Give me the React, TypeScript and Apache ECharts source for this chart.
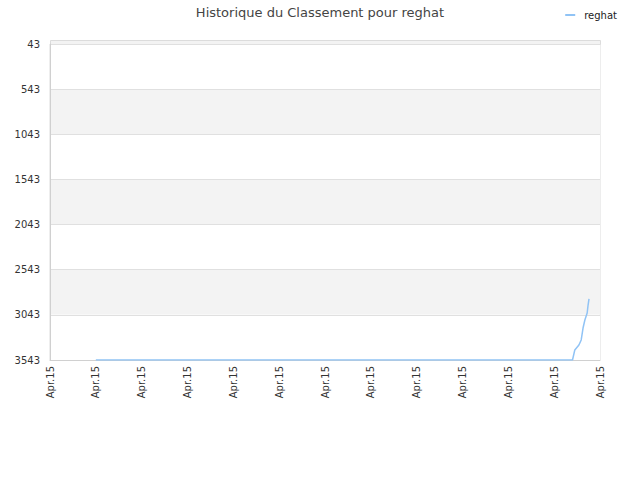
import * as echarts from "echarts";
import { useEffect, useRef } from "react";

const chartTitle = "Historique du Classement pour reghat";
const seriesName = "reghat";
const xTickLabel = "Apr.15";

// x position in tick units (0..12), rank value
const pointX = [1, 11.4, 11.45, 11.54, 11.59, 11.63, 11.67, 11.72, 11.74, 11.76];
const pointRank = [3543, 3543, 3432, 3377, 3321, 3189, 3100, 3022, 2934, 2867];

const rankMin = 43;
const rankMax = 3543;
const rankStep = 500;

export default function App() {
    const chartRef = useRef<HTMLDivElement>(null);

    useEffect(() => {
        document.body.style.margin = "0";
        if (!chartRef.current) return;

        const chart = echarts.init(chartRef.current, undefined, { renderer: "svg" });

        const option: echarts.EChartsOption = {
            animation: false,
            backgroundColor: "#fff",
            textStyle: { fontFamily: "DejaVu Sans" },
            title: {
                text: chartTitle,
                left: "center",
                top: 1,
                textStyle: { fontSize: 13, fontWeight: "normal", color: "#444" }
            },
            legend: {
                right: 18,
                top: 5,
                itemWidth: 10,
                itemHeight: 2,
                itemGap: 5,
                icon: "rect",
                textStyle: { fontSize: 10, color: "#222", padding: [0, 0, 0, 4] },
                data: [seriesName]
            },
            grid: {
                left: 50,
                right: 40,
                top: 44,
                bottom: 120,
                show: true,
                borderColor: "#dcdcdc",
                borderWidth: 1
            },
            graphic: [
                {
                    type: "rect",
                    left: 50,
                    top: 40,
                    shape: { width: 550, height: 4 },
                    style: { fill: "#f3f3f3", stroke: "#dcdcdc", lineWidth: 1 }
                }
            ],
            xAxis: {
                type: "value",
                min: 0,
                max: 12,
                interval: 1,
                axisLine: { lineStyle: { color: "#d0d0d0" } },
                axisTick: { show: false },
                splitLine: { show: false },
                axisLabel: {
                    rotate: 90,
                    fontSize: 10,
                    color: "#333",
                    margin: 6,
                    formatter: () => xTickLabel
                }
            },
            yAxis: {
                type: "value",
                inverse: true,
                min: rankMin,
                max: rankMax,
                interval: rankStep,
                axisLine: { show: true, lineStyle: { color: "#d0d0d0" } },
                axisTick: { show: false },
                axisLabel: {
                    fontSize: 10,
                    color: "#333",
                    margin: 10,
                    formatter: (v: number) => String(v)
                },
                splitLine: { lineStyle: { color: "#e0e0e0" } },
                splitArea: { show: true, areaStyle: { color: ["#ffffff", "#f3f3f3"] } }
            },
            series: [
                {
                    name: seriesName,
                    type: "line",
                    data: pointX.map((x, i) => [x, pointRank[i]]),
                    showSymbol: false,
                    lineStyle: { color: "#90c3f5", width: 1.5 },
                    itemStyle: { color: "#90c3f5" }
                }
            ]
        };

        chart.setOption(option);
        return () => {
            chart.dispose();
        };
    }, []);

    return <div ref={chartRef} style={{ width: 640, height: 480 }} />;
}
